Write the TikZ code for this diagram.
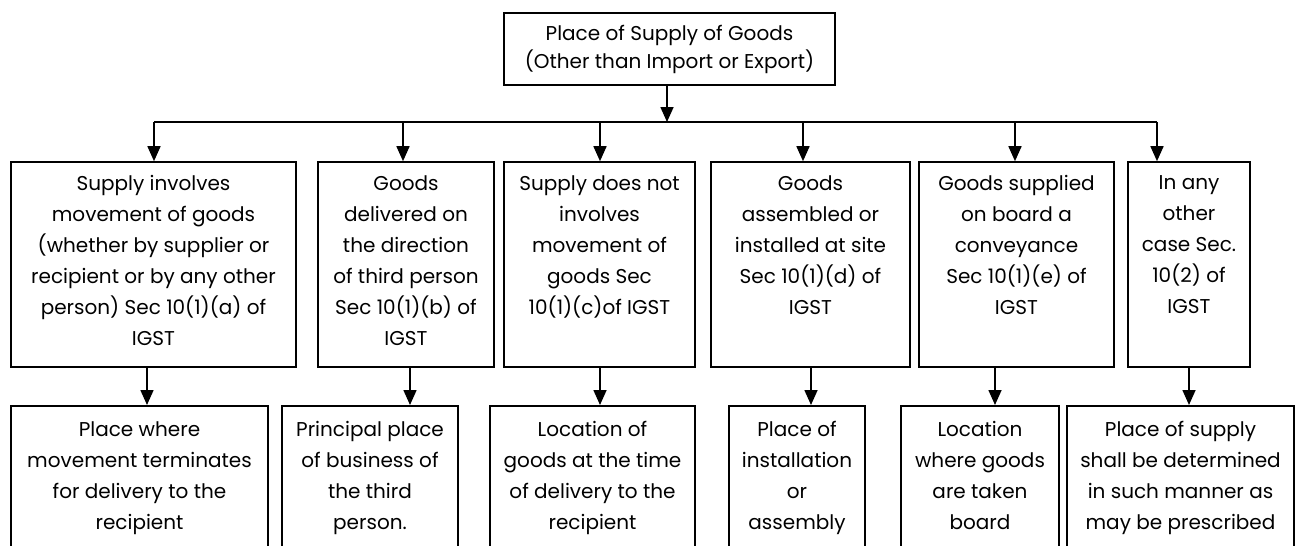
\documentclass[tikz,border=0pt]{standalone}
\usepackage{fontspec}
\setmainfont{Poppins}
\usetikzlibrary{arrows.meta}

\begin{document}
\begin{tikzpicture}[x=1pt, y=-1pt,
    box/.style={draw, line width=1.6pt, inner sep=0pt},
    txt/.style={align=center, inner sep=0pt, anchor=north, font=\fontsize{20}{31}\selectfont},
    arr/.style={line width=1.6pt, -{Triangle[length=15pt, width=13pt]}}]
    \useasboundingbox (0,0) rectangle (1299,546);
    \clip (0,0) rectangle (1299,546);

    % Top box
    \node[box, minimum width=331pt, minimum height=72pt, align=center,
          font=\fontsize{20}{28}\selectfont] (pos) at (669.5,49)
          {Place of Supply of Goods\\(Other than Import or Export)};
    \coordinate (split) at (667,122);
    \draw[arr] (pos.south -| split) -- (split);

    % Cases (x left / x right / arrow x / text)
    \foreach \n/\xl/\xr/\ax/\txt in {
        a/11/296/154/{Supply involves\\movement of goods\\(whether by supplier or\\recipient or by any other\\person) Sec 10(1)(a) of\\IGST},
        b/318/494/403/{Goods\\delivered on\\the direction\\of third person\\Sec 10(1)(b) of\\IGST},
        c/504/695/600/{Supply does not\\involves\\movement of\\goods Sec\\10(1)(c)of IGST},
        d/711/910/803/{Goods\\assembled or\\installed at site\\Sec 10(1)(d) of\\IGST},
        e/919/1114/1015/{Goods supplied\\on board a\\conveyance\\Sec 10(1)(e) of\\IGST},
        f/1128/1250/1157/{In any\\other\\case Sec.\\10(2) of\\IGST}} {
        \node[box, minimum width=(\xr-\xl)*1pt, minimum height=205pt] (c\n) at ({(\xl+\xr)/2},264.5) {};
        \node[txt] (t\n) at ([yshift=-14pt]c\n.north) {\txt};
        \coordinate (b\n) at (\ax,122);
        \draw[arr] (b\n) -- (b\n |- c\n.north);
    }
    \draw[line width=1.6pt] (ba) -- (bf);

    % Places of supply
    \foreach \n/\xl/\xr/\ax/\txt in {
        a/11/268/147/{Place where\\movement terminates\\for delivery to the\\recipient},
        b/282/458/410/{Principal place\\of business of\\the third\\person.},
        c/490/695/600/{Location of\\goods at the time\\of delivery to the\\recipient},
        d/729/865/811/{Place of\\installation\\or\\assembly},
        e/901/1059/995/{Location\\where goods\\are taken\\board},
        f/1067/1294/1189/{Place of supply\\shall be determined\\in such manner as\\may be prescribed}} {
        \node[box, minimum width=(\xr-\xl)*1pt, minimum height=200pt, anchor=north] (p\n) at ({(\xl+\xr)/2},405) {};
        \node[txt] (u\n) at ([yshift=-16pt]p\n.north) {\txt};
        \coordinate (d\n) at (\ax,0);
        \draw[arr] (c\n.south -| d\n) -- (p\n.north -| d\n);
    }
\end{tikzpicture}
\end{document}
